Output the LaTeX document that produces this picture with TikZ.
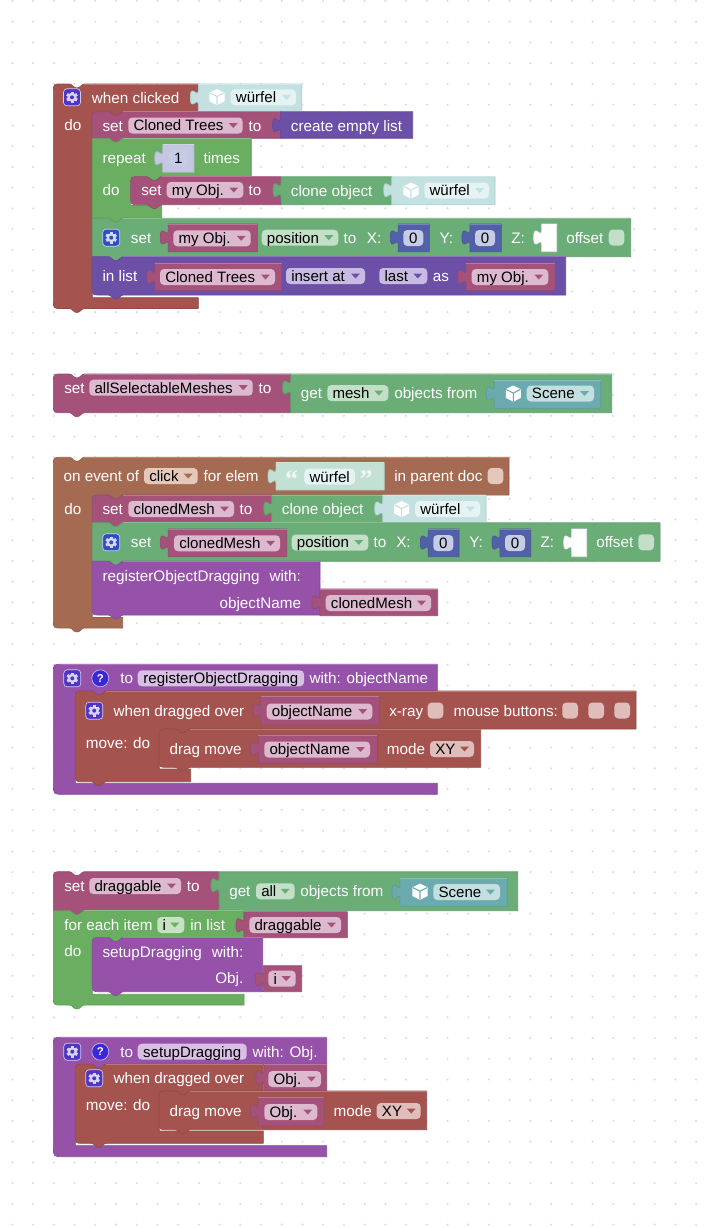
\documentclass[tikz,border=0pt]{standalone}
\usepackage{fontspec}
\setmainfont{Liberation Sans}
\newfontfamily\qfont{Liberation Serif}
\definecolor{hatred}{HTML}{A5534F}
\definecolor{varpink}{HTML}{A5527B}
\definecolor{loopg}{HTML}{69AE61}
\definecolor{objg}{HTML}{6AAD76}
\definecolor{listp}{HTML}{6C50A8}
\definecolor{procp}{HTML}{9651A9}
\definecolor{mathb}{HTML}{5160A8}
\definecolor{evbrown}{HTML}{A56B52}
\definecolor{palecy}{HTML}{C3E1E0}
\definecolor{paletx}{HTML}{C3E0D5}
\definecolor{palem}{HTML}{C3C7E0}
\definecolor{teal2}{HTML}{6BABAF}
\definecolor{ppink}{HTML}{DDB9CF}
\definecolor{pobj}{HTML}{C3DFC8}
\definecolor{ploop}{HTML}{C6E2C3}
\definecolor{plist}{HTML}{C8BBE3}
\definecolor{pev}{HTML}{E4C8BA}
\definecolor{pred}{HTML}{DFBDBB}
\definecolor{ppale}{HTML}{E6F3F3}
\definecolor{pteal}{HTML}{C3DFE0}
\definecolor{pmath}{HTML}{C6CBE6}
\definecolor{pproc}{HTML}{D9BFE3}
\definecolor{gearhat}{HTML}{4F35C4}
\definecolor{gearset}{HTML}{2F4DC4}
\definecolor{helpb}{HTML}{3A28D6}
\definecolor{griddot}{HTML}{DDDDDD}
\tikzset{
  lbl/.style={anchor=base west,inner sep=0pt,text=white,font=\fontsize{11.45}{14}\selectfont},
  pilltext/.style={anchor=base west,inner sep=0pt,text=black,font=\fontsize{11.3}{14}\selectfont},
  centertext/.style={anchor=base,inner sep=0pt,text=black,font=\fontsize{11.3}{14}\selectfont},
  quotemark/.style={anchor=base west,inner sep=0pt,text=white,opacity=.8,font=\qfont\bfseries\fontsize{19}{19}\selectfont},
  helpmark/.style={anchor=center,inner sep=0pt,text=white,font=\bfseries\fontsize{8.5}{10}\selectfont},
  blk/.style={line width=.5pt,line join=round}
}
\newcount\nodeno
\newcommand\nn{\global\advance\nodeno by 1 }
% notch going right / left along a horizontal edge, x = left edge of the block
\newcommand\Ntop[2]{-- ({#1+16},#2) .. controls ({#1+19},#2) and ({#1+20},{#2+4}) .. ({#1+23.5},{#2+4}) .. controls ({#1+27},{#2+4}) and ({#1+28},#2) .. ({#1+31},#2)}
\newcommand\Nbot[2]{-- ({#1+31},#2) .. controls ({#1+28},#2) and ({#1+27},{#2+4}) .. ({#1+23.5},{#2+4}) .. controls ({#1+20},{#2+4}) and ({#1+19},#2) .. ({#1+16},#2)}
% statement: colour x1 y1 x2 y2 tl bl
\newcommand\Stmt[7]{%
  \path[blk,fill=#1,draw=#1!90!black] ({#2+#6},#3) \Ntop{#2}{#3} -- (#4,#3) -- (#4,#5) \Nbot{#2}{#5} -- ({#2+#7},#5) .. controls (#2,#5) .. (#2,{#5-#7}) -- (#2,{#3+#6}) .. controls (#2,#3) .. ({#2+#6},#3) -- cycle;
  \draw[line width=.5pt,#1!78!white] ({#2+31},#3) -- (#4,#3);}
% C block: colour x1 y1 x2 y2 x3 y3 x4 y4 tl bl
\newcommand\CB[9]{\CBrest{#1}{#2}{#3}{#4}{#5}{#6}{#7}{#8}{#9}}
\newcommand\CBrest[9]{\def\cba{#1}\def\cbb{#2}\def\cbc{#3}\def\cbd{#4}\def\cbe{#5}\def\cbf{#6}\def\cbg{#7}\def\cbh{#8}\def\cbi{#9}\CBfin}
\newcommand\CBfin[2]{%
  \path[blk,fill=\cba,draw=\cba!90!black] ({\cbb+#1},\cbc) \Ntop{\cbb}{\cbc} -- (\cbd,\cbc) -- (\cbd,\cbe) \Nbot{\cbf}{\cbe} -- ({\cbf+8},\cbe) .. controls (\cbf,\cbe) .. (\cbf,{\cbe+8}) -- (\cbf,\cbg) -- (\cbh,\cbg) -- (\cbh,\cbi) \Nbot{\cbb}{\cbi} -- ({\cbb+#2},\cbi) .. controls (\cbb,\cbi) .. (\cbb,{\cbi-#2}) -- (\cbb,{\cbc+#1}) .. controls (\cbb,\cbc) .. ({\cbb+#1},\cbc) -- cycle;
  \draw[line width=.5pt,\cba!78!white] ({\cbb+31},\cbc) -- (\cbd,\cbc);}
% procedure block: colour x1 y1 x2 y2 x3 y3 y4
\newcommand\PB[8]{%
  \path[blk,fill=#1,draw=#1!90!black] ({#2+8},#3) -- (#4,#3) -- (#4,#5) \Nbot{#6}{#5} -- ({#6+8},#5) .. controls (#6,#5) .. (#6,{#5+8}) -- (#6,#7) -- (#4,#7) -- (#4,#8) -- ({#2+10},#8) .. controls (#2,#8) .. (#2,{#8-10}) -- (#2,{#3+8}) .. controls (#2,#3) .. ({#2+8},#3) -- cycle;
  \draw[line width=.5pt,#1!78!white] ({#2+8},#3) -- (#4,#3);}
% value block with left tab: colour x1 y1 x2 y2
\newcommand\VB[5]{%
  \path[blk,fill=#1,draw=#1!90!black] (#2,#3) -- (#4,#3) -- (#4,#5) -- (#2,#5) -- (#2,{#3+21}) .. controls (#2,{#3+11}) and ({#2-8},{#3+29}) .. ({#2-8},{#3+13.5}) .. controls ({#2-8},{#3-2}) and (#2,{#3+16}) .. (#2,{#3+6}) -- cycle;
  \draw[line width=.5pt,#1!78!white] (#2,#3) -- (#4,#3);}
\newcommand\Lb[3]{\nn\node[lbl] (t\the\nodeno) at (#1,{#2+5.5}) {#3};}
% pill with dropdown arrow: x1 x2 yc text fill arrow
\newcommand\Pill[6]{%
  \path[fill=#5,rounded corners=3pt] (#1,{#3-8}) rectangle (#2,{#3+8});
  \nn\node[pilltext] (p\the\nodeno) at ({#1+5},{#3+5.3}) {#4};
  \fill[#6] ({#2-14},{#3-2.5}) -- ({#2-5},{#3-2.5}) -- ({#2-9.5},{#3+2.5}) -- cycle;}
% pill without arrow, centred text
\newcommand\CPill[5]{%
  \path[fill=#5,rounded corners=3pt] (#1,{#3-8}) rectangle (#2,{#3+8});
  \nn\node[centertext] (p\the\nodeno) at ({(#1+#2)/2},{#3+5.3}) {#4};}
\newcommand\Chk[4]{\path[fill=#4,rounded corners=3pt] (#1,{#3-8}) rectangle (#2,{#3+8});}
\newcommand\Gear[3]{%
  \begin{scope}[shift={(#1,#2)}]
    \path[fill=#3,draw=white!75!#3,line width=.5pt,rounded corners=2.5pt] (-8.5,-8.5) rectangle (8.5,8.5);
    \foreach \a in {0,60,120}{\fill[rotate=\a,white!78!#3] (-1.5,-5.8) rectangle (1.5,5.8);}
    \fill[white!78!#3] (0,0) circle [radius=4.6];
    \fill[#3] (0,0) circle [radius=2];
  \end{scope}}
\newcommand\Help[2]{%
  \path[fill=helpb,draw=white!70!helpb,line width=.5pt] (#1,#2) circle [radius=8.5];
  \nn\node[helpmark] (h\the\nodeno) at (#1,#2) {?};}
\newcommand\Cube[3]{%
  \begin{scope}[shift={(#1,#2)}]
    \fill[white,draw=white,line width=.8pt,line join=round] (0,-7.5) -- (7,-4) -- (7,4) -- (0,7.5) -- (-7,4) -- (-7,-4) -- cycle;
    \draw[#3,line width=.8pt] (-7,-4) -- (0,-.5) -- (7,-4) (0,-.5) -- (0,7.5);
  \end{scope}}
\begin{document}
\begin{tikzpicture}[x=.75pt,y=-.75pt]
\useasboundingbox (0,0) rectangle (708,1228);
\fill[white] (0,0) rectangle (708,1228);
\foreach \i in {0,...,33}{\foreach \j in {0,...,59}{\fill[griddot] ({12.4+20.72*\i},{1+20.74*\j}) circle [radius=1.2];}}

% ---------- block 1
\CB{hatred}{53.4}{84}{198.3}{111.7}{92.3}{297.7}{198.3}{308.5}{8}{8}
\Gear{72}{97.3}{gearhat}
\Lb{91.7}{97.5}{when clicked}
\Lb{64}{125}{do}
\VB{palecy}{198.3}{84}{301.7}{111.7}
\Cube{217}{97}{palecy}
\Pill{230.7}{296}{97.3}{würfel}{ppale}{palecy}

\Stmt{varpink}{92.3}{111.7}{280.7}{138.3}{8}{0}
\Lb{102.3}{125.5}{set}
\Pill{128.3}{242.7}{125.5}{Cloned Trees}{ppink}{varpink}
\Lb{248.3}{125.5}{to}
\VB{listp}{280.7}{111.7}{412.7}{138.3}
\Lb{290.7}{125.5}{create empty list}

\CB{loopg}{92.3}{138.3}{251.3}{176.7}{130.7}{205.5}{161.7}{218.3}{0}{0}
\Lb{102.3}{157.7}{repeat}
\VB{palem}{162.7}{144.7}{194}{172.3}
\CPill{168.7}{187.7}{158}{1}{pmath}
\Lb{203.3}{157.7}{times}
\Lb{102.3}{190}{do}
\Stmt{varpink}{130.7}{176.7}{281}{204.7}{8}{8}
\Lb{141}{190}{set}
\Pill{166.7}{243.3}{190}{my Obj.}{ppink}{varpink}
\Lb{248.3}{190}{to}
\VB{objg}{281}{176.7}{391.7}{204.7}
\Lb{290.7}{190.5}{clone object}
\VB{palecy}{391.7}{176.7}{495}{204.7}
\Cube{411}{190.5}{palecy}
\Pill{424.3}{489}{190.5}{würfel}{ppale}{palecy}

\Stmt{objg}{92.3}{218.3}{630.7}{256.7}{0}{0}
\Gear{111.2}{237.7}{gearset}
\Lb{130.7}{237.7}{set}
\VB{varpink}{168.3}{224}{257.3}{251.7}
\Pill{173.3}{250.7}{238.3}{my Obj.}{ppink}{varpink}
\Pill{261.7}{338.3}{237.7}{position}{pobj}{objg}
\Lb{343.3}{237.7}{to}
\Lb{366.7}{237.7}{X:}
\VB{mathb}{398.3}{224}{429.3}{251.7}
\CPill{403.3}{423.3}{238}{0}{pmath}
\Lb{439.3}{237.7}{Y:}
\VB{mathb}{470}{224}{501.3}{251.7}
\CPill{475}{495}{238}{0}{pmath}
\Lb{511}{237.7}{Z:}
\VB{white}{541.7}{224}{556.7}{251.7}
\Lb{566}{237.7}{offset}
\Chk{608.7}{624.3}{237.5}{pobj}

\Stmt{listp}{92.3}{256.7}{565.7}{295}{0}{8}
\Lb{102.3}{275.7}{in list}
\VB{varpink}{155}{263.3}{281.7}{290.7}
\Pill{160}{275}{277}{Cloned Trees}{ppink}{varpink}
\Pill{286}{365}{276}{insert at}{plist}{listp}
\Pill{379.3}{427.3}{276}{last}{plist}{listp}
\Lb{432.7}{275.7}{as}
\VB{varpink}{466}{263.3}{555}{290.7}
\Pill{471.7}{548.3}{277}{my Obj.}{ppink}{varpink}

% ---------- block 2
\Stmt{varpink}{53.4}{374}{290.7}{412.7}{8}{8}
\Lb{64}{387.7}{set}
\Pill{89.3}{252.7}{387.7}{allSelectableMeshes}{ppink}{varpink}
\Lb{258.3}{387.7}{to}
\VB{objg}{290.7}{374}{611.7}{412.7}
\Lb{300.7}{392.7}{get}
\Pill{327.3}{388.3}{393}{mesh}{pobj}{objg}
\Lb{394}{392.7}{objects from}
\VB{teal2}{494.3}{380}{600.7}{408.3}
\Cube{513.3}{393.5}{teal2}
\Pill{526.7}{594}{393.5}{Scene}{pteal}{teal2}

% ---------- block 3
\CB{evbrown}{53.4}{457.3}{509}{495}{92.3}{617.5}{122.7}{628}{8}{8}
\Lb{63.3}{475.7}{on event of}
\Pill{144}{197.7}{476}{click}{pev}{evbrown}
\Lb{203.3}{475.7}{for elem}
\VB{paletx}{276}{462.7}{384.3}{490}
\nn\node[quotemark] (q\the\nodeno) at (285.2,487.5) {“};
\CPill{304.3}{355}{476.7}{würfel}{ppale}
\nn\node[quotemark] (q\the\nodeno) at (359.6,487.5) {”};
\Lb{394}{475.7}{in parent doc}
\Chk{487.7}{503.3}{476}{pev}
\Lb{64}{508.5}{do}

\Stmt{varpink}{92.3}{495}{271.7}{522.7}{8}{0}
\Lb{102.3}{509}{set}
\Pill{128.3}{234}{509}{clonedMesh}{ppink}{varpink}
\Lb{239.3}{509}{to}
\VB{objg}{271.7}{495}{382.7}{522.7}
\Lb{281.7}{509}{clone object}
\VB{palecy}{382.7}{495}{486}{522.7}
\Cube{401.7}{509}{palecy}
\Pill{415}{480}{509}{würfel}{ppale}{palecy}

\Stmt{objg}{92.3}{522.7}{660}{561.3}{0}{0}
\Gear{111.2}{542.3}{gearset}
\Lb{130.7}{542.3}{set}
\VB{varpink}{168.3}{529}{286.7}{556.7}
\Pill{174}{280}{543.3}{clonedMesh}{ppink}{varpink}
\Pill{291.7}{368.3}{542.5}{position}{pobj}{objg}
\Lb{373.3}{542.3}{to}
\Lb{396}{542.3}{X:}
\VB{mathb}{428.3}{529}{459}{556.7}
\CPill{433.3}{453.3}{543}{0}{pmath}
\Lb{469}{542.3}{Y:}
\VB{mathb}{500}{529}{530.7}{556.7}
\CPill{505}{525}{543}{0}{pmath}
\Lb{540.3}{542.3}{Z:}
\VB{white}{571.7}{529}{586.7}{556.7}
\Lb{596}{542.3}{offset}
\Chk{638.3}{654}{542.3}{pobj}

\Stmt{procp}{92.3}{561.3}{320}{615}{0}{8}
\Lb{102.3}{576}{registerObjectDragging}
\Lb{269.3}{576}{with:}
\Lb{219.3}{602.7}{objectName}
\VB{varpink}{320}{589}{437.7}{615.7}
\Pill{325.7}{431}{603}{clonedMesh}{ppink}{varpink}

% ---------- block 4
\PB{procp}{53.4}{664.3}{437.3}{691}{75.3}{783.3}{794.3}
\Gear{72.3}{678.3}{gearhat}
\Help{100.3}{678.3}
\Lb{120}{678.3}{to}
\CPill{137.7}{304}{678.3}{registerObjectDragging}{pproc}
\Lb{309.3}{678}{with: objectName}

\CB{hatred}{75.3}{691}{636}{729}{159.3}{769}{190.7}{781.7}{8}{8}
\Gear{94.2}{710.7}{gearhat}
\Lb{113.3}{710.7}{when dragged over}
\VB{varpink}{261}{696.7}{379.3}{725}
\Pill{266.7}{372.3}{711.5}{objectName}{ppink}{varpink}
\Lb{389}{710.7}{x-ray}
\Chk{427.7}{443.3}{710.5}{pred}
\Lb{453.3}{710.7}{mouse buttons:}
\Chk{562.3}{578}{710.5}{pred}
\Chk{588.3}{604}{710.5}{pred}
\Chk{614.3}{630}{710.5}{pred}
\Lb{85.7}{743.3}{move: do}
\Stmt{hatred}{159.3}{729}{480.7}{767.3}{8}{8}
\Lb{169.3}{749}{drag move}
\VB{varpink}{258.3}{735}{377.3}{763.3}
\Pill{264.3}{370}{749.5}{objectName}{ppink}{varpink}
\Lb{386.7}{749}{mode}
\Pill{430}{474}{749}{XY}{pred}{hatred}

% ---------- block 5
\Stmt{varpink}{53.4}{871.7}{219}{910.7}{8}{0}
\Lb{64}{886}{set}
\Pill{89.3}{181}{886}{draggable}{ppink}{varpink}
\Lb{186.7}{886}{to}
\VB{objg}{219}{871.7}{517.7}{910.7}
\Lb{229}{891}{get}
\Pill{256}{294.7}{891.3}{all}{pobj}{objg}
\Lb{300}{891}{objects from}
\VB{teal2}{400}{878.3}{507.3}{906}
\Cube{420}{891.7}{teal2}
\Pill{433.3}{500}{892}{Scene}{pteal}{teal2}

\CB{loopg}{53.4}{910.7}{244}{937.7}{92.3}{994.3}{244}{1005}{0}{8}
\Lb{64}{925}{for each item}
\Pill{157.3}{184.3}{925}{i}{ploop}{loopg}
\Lb{190}{925}{in list}
\VB{varpink}{244}{911.7}{347.3}{937.7}
\Pill{249.3}{341}{925}{draggable}{ppink}{varpink}
\Lb{64}{951}{do}
\Stmt{procp}{92.3}{937.7}{262.7}{991.7}{8}{8}
\Lb{102.3}{951.7}{setupDragging}
\Lb{211.7}{951.7}{with:}
\Lb{215}{978.3}{Obj.}
\VB{varpink}{263.3}{965.7}{301.7}{991.7}
\Pill{268.3}{295.7}{978.7}{i}{ppink}{varpink}

% ---------- block 6
\PB{procp}{53.4}{1037.3}{326.7}{1064.3}{75.3}{1145.7}{1156.7}
\Gear{72.3}{1051.7}{gearhat}
\Help{100.3}{1051.7}
\Lb{120}{1051.7}{to}
\CPill{137.7}{246.7}{1051.7}{setupDragging}{pproc}
\Lb{252.3}{1051.7}{with: Obj.}

\CB{hatred}{75.3}{1064.3}{263.3}{1091}{159.3}{1131}{263.3}{1143.3}{8}{8}
\Gear{94.2}{1078.3}{gearhat}
\Lb{113.3}{1078.3}{when dragged over}
\VB{varpink}{264}{1064.3}{326.7}{1091}
\Pill{268.3}{321}{1079}{Obj.}{ppink}{varpink}
\Lb{85.7}{1105}{move: do}
\Stmt{hatred}{159.3}{1091}{426.7}{1129.7}{8}{8}
\Lb{169.3}{1111}{drag move}
\VB{varpink}{258.3}{1097.7}{324}{1126}
\Pill{264.3}{317.3}{1112}{Obj.}{ppink}{varpink}
\Lb{333.3}{1111}{mode}
\Pill{376.7}{420.7}{1111}{XY}{pred}{hatred}
\end{tikzpicture}
\end{document}
